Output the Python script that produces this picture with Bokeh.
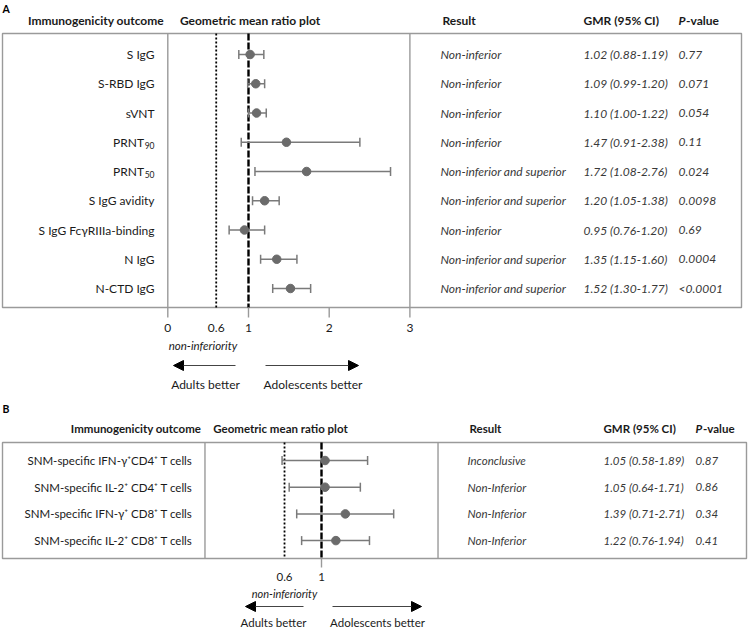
import numpy as np
from bokeh.plotting import figure
from bokeh.models import Range1d, LogScale, Arrow, NormalHead, ColumnDataSource
from bokeh.core.properties import value
from bokeh.embed import file_html
from bokeh.resources import INLINE

# ---------------- data ----------------
# Panel A
outcomes_a = ["S IgG", "S-RBD IgG", "sVNT", "PRNT", "PRNT", "S IgG avidity",
              "S IgG Fc\u03b3RIIIa-binding", "N IgG", "N-CTD IgG"]
subscripts_a = ["", "", "", "90", "50", "", "", "", ""]
gmr_a = [1.02, 1.09, 1.10, 1.47, 1.72, 1.20, 0.95, 1.35, 1.52]
lo_a = [0.88, 0.99, 1.00, 0.91, 1.08, 1.05, 0.76, 1.15, 1.30]
hi_a = [1.19, 1.20, 1.22, 2.38, 2.76, 1.38, 1.20, 1.60, 1.77]
result_a = ["Non-inferior", "Non-inferior", "Non-inferior", "Non-inferior",
            "Non-inferior and superior", "Non-inferior and superior", "Non-inferior",
            "Non-inferior and superior", "Non-inferior and superior"]
p_a = ["0.77", "0.071", "0.054", "0.11", "0.024", "0.0098", "0.69", "0.0004", "<0.0001"]
xlim_a = [0, 3]
ticks_a = [0, 1, 2, 3]
ticklabel_vals_a = [0, 0.6, 1, 2, 3]
ticklabels_a = ["0", "0.6", "1", "2", "3"]

# Panel B
outcomes_b = ["SNM-specific IFN-\u03b3\u207aCD4\u207a T cells",
              "SNM-specific IL-2\u207a CD4\u207a T cells",
              "SNM-specific IFN-\u03b3\u207a CD8\u207a T cells",
              "SNM-specific IL-2\u207a CD8\u207a T cells"]
gmr_b = [1.05, 1.05, 1.39, 1.22]
lo_b = [0.58, 0.64, 0.71, 0.76]
hi_b = [1.89, 1.71, 2.71, 1.94]
result_b = ["Inconclusive", "Non-Inferior", "Non-Inferior", "Non-Inferior"]
p_b = ["0.87", "0.86", "0.34", "0.41"]
xlim_b = [0.2, 5]
ticks_b = [1]
ticklabel_vals_b = [0.6, 1]
ticklabels_b = ["0.6", "1"]

REF = 1.0
NONINF = 0.6

# ---------------- layout constants (page pixels) ----------------
FONT = "Lato"
TXT = "#1a1a1a"
TAB = "#383838"
GREY = "#9a9a9a"
PT = "#6b6b6b"

A0, AK = 167.3, 80.7          # panel A: page_x = A0 + AK * gmr
B0, BK = 321.0, 72.4          # panel B: page_x = B0 + BK * ln(gmr)
RA0, RAK = 54.0, 29.25        # panel A rows
RB0, RBK = 460.0, 26.7        # panel B rows

W, H = 753, 629
X0, X1, Y0, Y1 = 0, W, 0, H

p = figure(width=W, height=H, x_range=Range1d(X0, X1), y_range=Range1d(Y1, Y0),
           output_backend="svg", toolbar_location=None, min_border=0,
           x_axis_location=None, y_axis_location=None)
for g in p.grid:
    g.visible = False
p.outline_line_color = None
p.background_fill_color = "white"
p.border_fill_color = "white"

p.extra_x_ranges = {
    "gmrA": Range1d((X0 - A0) / AK, (X1 - A0) / AK),
    "gmrB": Range1d(float(np.exp((X0 - B0) / BK)), float(np.exp((X1 - B0) / BK))),
}
p.extra_x_scales = {"gmrB": LogScale()}
p.extra_y_ranges = {
    "rowsA": Range1d((Y1 - RA0) / RAK, (Y0 - RA0) / RAK),
    "rowsB": Range1d((Y1 - RB0) / RBK, (Y0 - RB0) / RBK),
}


def add_text(xs, ys, texts, size, align="left", style="normal", color=TXT,
             xr="default", yr="default", baseline="middle"):
    src = ColumnDataSource(dict(x=list(xs), y=list(ys), t=list(texts)))
    p.text(x="x", y="y", text="t", source=src, text_font=value(FONT),
           text_font_size=f"{size}px", text_align=align, text_baseline=baseline,
           text_font_style=style, text_color=color, x_range_name=xr, y_range_name=yr)


def panel(letter, outcomes, gmr, lo, hi, result, pvals, xlim, ticks, tlv, tl,
          xr, yr, box, res_x, gmr_x, p_x, head_y, head_pos, letter_y,
          tick_len, tick_lab_y, noninf_x, noninf_y, arr_y, arr_l, arr_r, better_y,
          better_x, hsize, lsize):
    top, bottom, bl, br = box
    n = len(outcomes)
    idx = list(range(n))
    add_text([2], [letter_y], [letter], 10.5, style="bold", color="black")
    add_text([head_pos[0]], [head_y], ["Immunogenicity outcome"], hsize, align="center", style="bold")
    add_text([head_pos[1]], [head_y], ["Geometric mean ratio plot"], hsize, align="center", style="bold")
    add_text([res_x], [head_y], ["Result"], hsize, style="bold")
    add_text([gmr_x], [head_y], ["GMR (95% CI)"], hsize, style="bold")
    add_text([p_x], [head_y], ["P"], hsize, style="bold italic")
    add_text([p_x + 7.5], [head_y], ["-value"], hsize, style="bold")
    # outer box
    p.quad(left=[bl], right=[br], top=[top], bottom=[bottom], fill_color=None,
           line_color=GREY, line_width=1.4)
    # plot area borders
    p.segment(x0=xlim, x1=xlim, y0=[top] * 2, y1=[bottom] * 2, x_range_name=xr,
              line_color=GREY, line_width=1.4)
    # reference lines
    p.segment(x0=[NONINF], x1=[NONINF], y0=[top], y1=[bottom], x_range_name=xr,
              line_color="black", line_width=1.8, line_dash="2 2")
    p.segment(x0=[REF], x1=[REF], y0=[top], y1=[bottom], x_range_name=xr,
              line_color="black", line_width=2.4, line_dash="7 2")
    # ticks
    p.segment(x0=ticks, x1=ticks, y0=[bottom] * len(ticks), y1=[bottom + tick_len] * len(ticks),
              x_range_name=xr, line_color=GREY, line_width=1.4)
    add_text(tlv, [tick_lab_y] * len(tlv), tl, lsize, align="center", xr=xr)
    add_text([noninf_x], [noninf_y], ["non-inferiority"], lsize - 0.5, align="center", style="italic")
    # arrows
    for a in (arr_l, arr_r):
        p.add_layout(Arrow(x_start=a[0], x_end=a[1], y_start=arr_y, y_end=arr_y,
                           line_color="#444444", line_width=1,
                           end=NormalHead(size=10, fill_color="black", line_color="black")))
    add_text([better_x[0]], [better_y], ["Adults better"], lsize, align="center")
    add_text([better_x[1]], [better_y], ["Adolescents better"], lsize, align="center")
    # error bars
    p.segment(x0=lo, x1=hi, y0=idx, y1=idx, x_range_name=xr, y_range_name=yr,
              line_color="#7a7a7a", line_width=1.5)
    p.scatter(x=lo + hi, y=idx + idx, marker="dash", angle=np.pi / 2, size=9,
              line_color="#7a7a7a", line_width=1.5, x_range_name=xr, y_range_name=yr)
    p.scatter(x=gmr, y=idx, size=8.5, fill_color=PT, line_color=PT,
              x_range_name=xr, y_range_name=yr)
    # table
    gtxt = [f"{g:.2f} ({l:.2f}-{h:.2f})" for g, l, h in zip(gmr, lo, hi)]
    add_text([res_x - 2] * n, idx, result, lsize, style="italic", color=TAB, yr=yr)
    add_text([gmr_x] * n, idx, gtxt, lsize, style="italic", color=TAB, yr=yr)
    add_text([p_x] * n, idx, pvals, lsize, style="italic", color=TAB, yr=yr)
    return idx


# ---- panel A ----
idx_a = panel("A", outcomes_a, gmr_a, lo_a, hi_a, result_a, p_a, xlim_a, ticks_a,
              ticklabel_vals_a, ticklabels_a, "gmrA", "rowsA",
              box=(33, 307, 2, 741), res_x=442, gmr_x=583, p_x=678,
              head_y=20, head_pos=(95.5, 249.5), letter_y=8,
              tick_len=10, tick_lab_y=327, noninf_x=202.5, noninf_y=345,
              arr_y=365, arr_l=(235, 173), arr_r=(265, 358), better_y=384,
              better_x=(205, 312.5), hsize=12, lsize=12)
sub_mask = [s != "" for s in subscripts_a]
main_x = [143.5 if m else 154 for m in sub_mask]
add_text(main_x, idx_a, outcomes_a, 12, align="right", yr="rowsA")
sub_idx = [i for i, m in zip(idx_a, sub_mask) if m]
add_text([154] * len(sub_idx), [i + 0.11 for i in sub_idx],
         [s for s in subscripts_a if s], 8.5, align="right", yr="rowsA")

# ---- panel B ----
idx_b = panel("B", outcomes_b, gmr_b, lo_b, hi_b, result_b, p_b, xlim_b, ticks_b,
              ticklabel_vals_b, ticklabels_b, "gmrB", "rowsB",
              box=(442, 558, 2, 746), res_x=469, gmr_x=603, p_x=695,
              head_y=428, head_pos=(135.5, 280), letter_y=408,
              tick_len=9, tick_lab_y=576, noninf_x=284, noninf_y=593,
              arr_y=606, arr_l=(303, 245), arr_r=(332, 421), better_y=622,
              better_x=(273, 377), hsize=11.5, lsize=11.5)
add_text([192] * len(idx_b), idx_b, outcomes_b, 11.5, align="right", yr="rowsB")

open("out.html", "w").write(file_html(p, INLINE))
